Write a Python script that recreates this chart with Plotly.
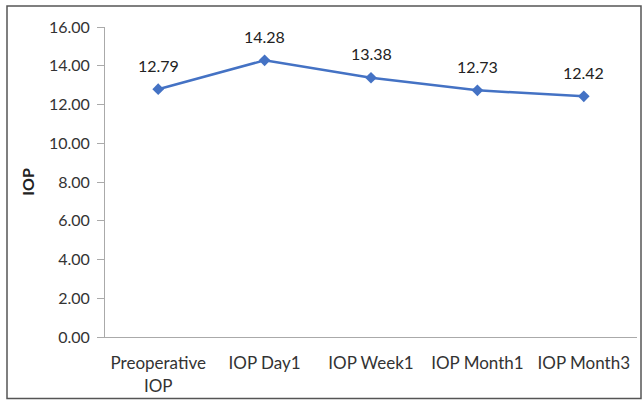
import plotly.graph_objects as go

categories = ["Preoperative<br>IOP", "IOP Day1", "IOP Week1", "IOP Month1", "IOP Month3"]
iop_values = [12.79, 14.28, 13.38, 12.73, 12.42]
y_ticks = [0, 2, 4, 6, 8, 10, 12, 14, 16]

FONT = "Lato, Open Sans, sans-serif"
fig = go.Figure()
fig.add_trace(go.Scatter(
    x=categories, y=iop_values, mode="lines+markers",
    line=dict(color="#4472C4", width=2.5),
    marker=dict(symbol="diamond", size=9, color="#4472C4"),
    cliponaxis=False, showlegend=False,
))
for c, v in zip(categories, iop_values):
    fig.add_annotation(x=c, y=v, text=f"{v:.2f}", showarrow=False, yshift=24,
                       font=dict(family=FONT, size=16, color="#222"))

L, R, T, B = 105, 6, 27, 64
W, H = 643, 401
pw, ph = W - L - R, H - T - B
def px(x): return (x - L) / pw
def py(y): return (H - B - y) / ph
fig.add_shape(type="rect", xref="paper", yref="paper",
              x0=px(7), x1=px(641), y0=py(6), y1=py(398.5),
              line=dict(color="#555", width=1.5), layer="below")

fig.update_layout(
    width=W, height=H, margin=dict(l=L, r=R, t=T, b=B, autoexpand=False),
    plot_bgcolor="white", paper_bgcolor="white",
    font=dict(family=FONT, size=16, color="#333"),
    xaxis=dict(range=[-0.5, 4.5], showline=True, linecolor="#aaa", linewidth=1,
               ticks="outside", ticklen=11, tickcolor="rgba(0,0,0,0)",
               showgrid=False, tickfont=dict(size=17, color="#333")),
    yaxis=dict(range=[0, 16], tickvals=y_ticks, ticktext=[f"{t:.2f}" for t in y_ticks],
               showline=True, linecolor="#aaa", linewidth=1, ticks="outside",
               ticklen=7, tickcolor="#aaa", showgrid=False, zeroline=False,
               automargin=False, ticklabelstandoff=4,
               title=dict(text="<b>IOP</b>", font=dict(size=16, color="#222"), standoff=10),
               tickfont=dict(size=16, color="#333")),
)
fig.write_html("out.html", config={"displayModeBar": False},
               post_script="document.body.style.margin='0';")
